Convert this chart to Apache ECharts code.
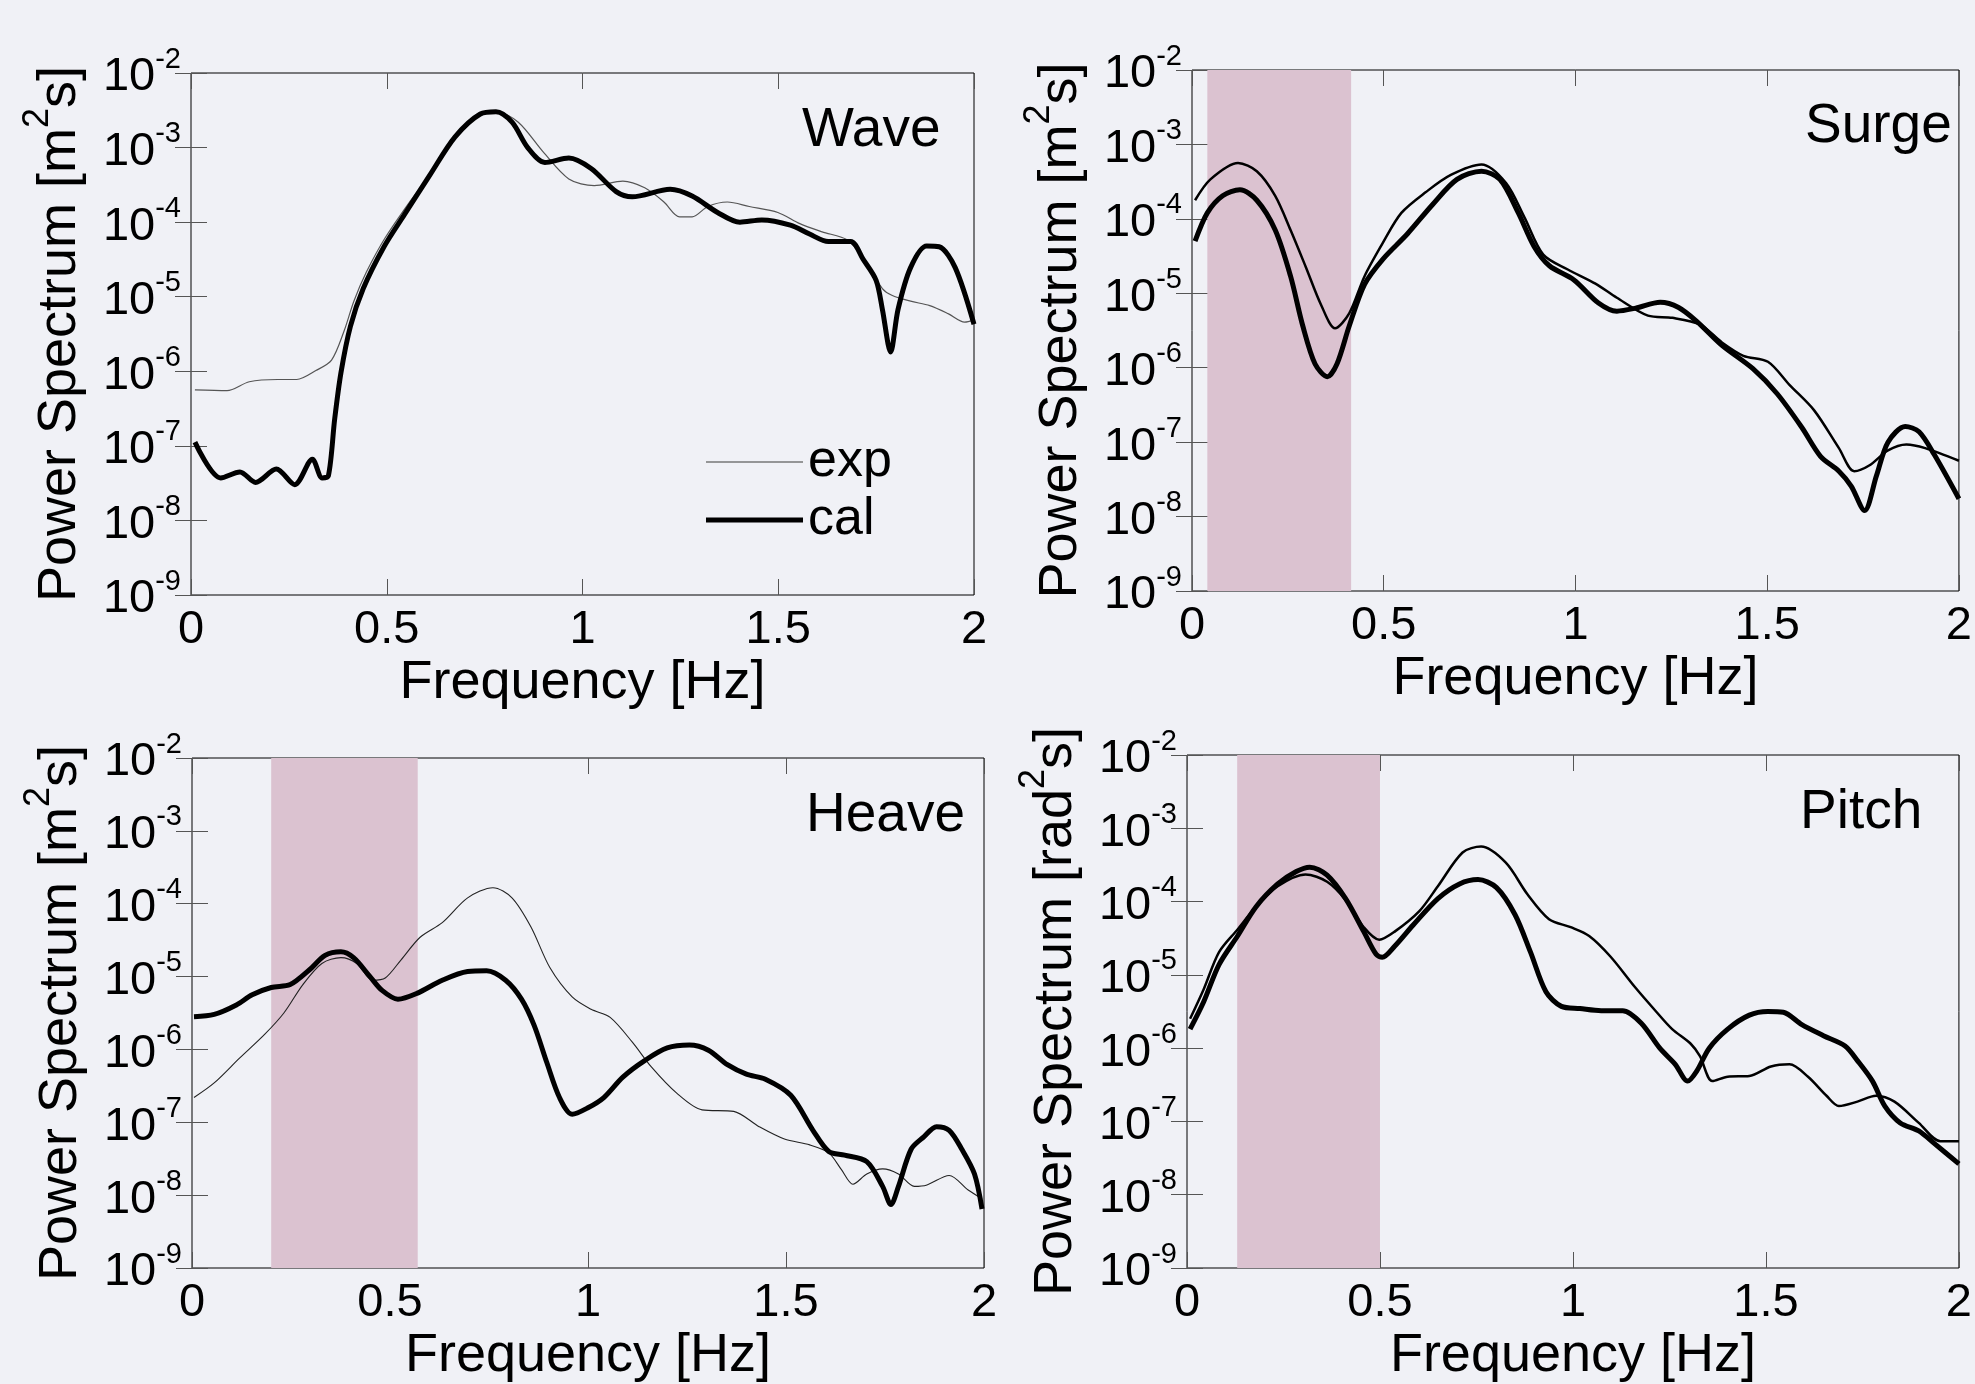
<!DOCTYPE html>
<html lang="en">
<head>
<meta charset="UTF-8">
<title>Power Spectrum</title>
<style>
    html, body { margin: 0; padding: 0; background: #f0f1f6; }
    #chart { width: 1975px; height: 1384px; }
</style>
<script src="https://cdn.jsdelivr.net/npm/echarts@6/dist/echarts.min.js"></script>
</head>
<body>
<div id="chart"></div>
<script>
// frequency [Hz] and log10(power spectrum)
var waveExpF = [0.01,0.092,0.149,0.221,0.27,0.319,0.359,0.391,0.416,0.448,0.496,0.561,0.626,0.674,0.739,0.78,0.836,0.9,0.965,1.03,1.103,1.159,1.208,1.248,1.28,1.32,1.37,1.426,1.499,1.555,1.612,1.677,1.725,1.766,1.79,1.838,1.887,1.935,1.976,2.0];
var waveExpLog = [-6.25,-6.26,-6.14,-6.11,-6.11,-5.99,-5.85,-5.46,-5.06,-4.67,-4.21,-3.71,-3.25,-2.86,-2.55,-2.52,-2.66,-3.06,-3.42,-3.51,-3.45,-3.54,-3.73,-3.93,-3.93,-3.79,-3.73,-3.79,-3.87,-4.02,-4.13,-4.24,-4.55,-4.89,-4.98,-5.06,-5.12,-5.23,-5.34,-5.31];
var waveCalF = [0.01,0.076,0.125,0.165,0.218,0.265,0.31,0.335,0.351,0.367,0.383,0.407,0.44,0.493,0.545,0.61,0.674,0.739,0.779,0.82,0.86,0.904,0.965,1.022,1.086,1.127,1.224,1.28,1.345,1.402,1.458,1.531,1.58,1.628,1.685,1.717,1.75,1.766,1.787,1.806,1.838,1.879,1.911,1.952,2.0];
var waveCalLog = [-6.95,-7.43,-7.35,-7.49,-7.31,-7.52,-7.18,-7.43,-7.40,-6.64,-6.02,-5.40,-4.89,-4.33,-3.90,-3.37,-2.86,-2.55,-2.52,-2.66,-3.0,-3.20,-3.14,-3.28,-3.59,-3.66,-3.56,-3.65,-3.87,-4.0,-3.97,-4.04,-4.16,-4.26,-4.26,-4.50,-4.78,-5.17,-5.74,-5.17,-4.61,-4.32,-4.33,-4.61,-5.37];

var surgeExpF = [0.008,0.048,0.12,0.169,0.217,0.257,0.297,0.337,0.373,0.41,0.45,0.498,0.546,0.61,0.675,0.755,0.819,0.867,0.916,0.98,1.052,1.108,1.189,1.253,1.325,1.382,1.438,1.502,1.558,1.622,1.687,1.727,1.767,1.815,1.863,1.912,2.0];
var surgeExpLog = [-3.75,-3.47,-3.25,-3.36,-3.69,-4.15,-4.65,-5.16,-5.47,-5.27,-4.77,-4.32,-3.92,-3.64,-3.41,-3.27,-3.52,-3.98,-4.48,-4.68,-4.87,-5.06,-5.30,-5.33,-5.42,-5.66,-5.84,-5.92,-6.23,-6.57,-7.08,-7.39,-7.31,-7.11,-7.03,-7.08,-7.25];
var surgeCalF = [0.008,0.04,0.08,0.125,0.169,0.217,0.257,0.289,0.321,0.353,0.378,0.41,0.45,0.498,0.562,0.627,0.691,0.755,0.803,0.851,0.892,0.932,0.996,1.06,1.108,1.157,1.221,1.269,1.317,1.382,1.462,1.526,1.59,1.639,1.687,1.719,1.754,1.785,1.815,1.86,1.896,1.936,2.0];
var surgeCalLog = [-4.30,-3.92,-3.69,-3.61,-3.75,-4.15,-4.77,-5.44,-5.95,-6.12,-5.95,-5.44,-4.88,-4.54,-4.20,-3.81,-3.47,-3.36,-3.47,-3.92,-4.37,-4.63,-4.82,-5.13,-5.24,-5.20,-5.12,-5.19,-5.38,-5.70,-6.01,-6.35,-6.80,-7.19,-7.39,-7.59,-7.92,-7.45,-7.0,-6.79,-6.86,-7.17,-7.76];

var heaveExpF = [0.005,0.056,0.12,0.184,0.232,0.28,0.328,0.376,0.416,0.456,0.488,0.528,0.576,0.632,0.696,0.76,0.808,0.856,0.904,0.96,1.008,1.056,1.112,1.16,1.224,1.288,1.368,1.432,1.496,1.56,1.608,1.64,1.669,1.704,1.744,1.784,1.824,1.856,1.912,1.96,1.995];
var heaveExpLog = [-6.66,-6.46,-6.12,-5.79,-5.50,-5.11,-4.82,-4.74,-4.82,-5.05,-5.02,-4.77,-4.46,-4.26,-3.92,-3.78,-3.92,-4.32,-4.88,-5.28,-5.45,-5.56,-5.90,-6.24,-6.60,-6.83,-6.85,-7.06,-7.23,-7.31,-7.42,-7.65,-7.85,-7.71,-7.64,-7.71,-7.88,-7.86,-7.73,-7.93,-8.05];
var heaveCalF = [0.005,0.056,0.112,0.152,0.2,0.248,0.296,0.336,0.376,0.408,0.448,0.48,0.52,0.568,0.632,0.696,0.744,0.792,0.832,0.864,0.896,0.928,0.96,1.0,1.04,1.088,1.144,1.2,1.256,1.304,1.352,1.4,1.448,1.512,1.568,1.608,1.648,1.704,1.744,1.765,1.784,1.816,1.848,1.88,1.912,1.944,1.976,1.995];
var heaveCalLog = [-5.55,-5.52,-5.39,-5.25,-5.15,-5.11,-4.91,-4.71,-4.66,-4.74,-4.99,-5.19,-5.31,-5.23,-5.05,-4.93,-4.92,-5.05,-5.31,-5.67,-6.18,-6.66,-6.89,-6.80,-6.66,-6.38,-6.15,-5.98,-5.94,-6.01,-6.21,-6.34,-6.41,-6.63,-7.11,-7.40,-7.45,-7.54,-7.88,-8.13,-7.88,-7.37,-7.20,-7.06,-7.11,-7.37,-7.71,-8.19];

var pitchExpF = [0.008,0.043,0.083,0.131,0.179,0.235,0.307,0.363,0.411,0.458,0.498,0.538,0.602,0.65,0.714,0.762,0.826,0.882,0.938,0.994,1.042,1.097,1.161,1.217,1.257,1.305,1.329,1.361,1.401,1.457,1.513,1.561,1.609,1.657,1.689,1.737,1.785,1.833,1.896,1.952,2.0];
var pitchExpLog = [-5.60,-5.20,-4.69,-4.38,-4.07,-3.79,-3.63,-3.73,-3.98,-4.35,-4.52,-4.41,-4.13,-3.79,-3.33,-3.25,-3.47,-3.90,-4.24,-4.35,-4.47,-4.75,-5.17,-5.51,-5.74,-5.94,-6.11,-6.45,-6.39,-6.38,-6.25,-6.22,-6.39,-6.65,-6.79,-6.73,-6.65,-6.73,-7.02,-7.27,-7.27];
var pitchCalF = [0.008,0.043,0.083,0.131,0.179,0.235,0.283,0.318,0.363,0.411,0.458,0.49,0.506,0.538,0.586,0.65,0.706,0.754,0.802,0.85,0.89,0.93,0.97,1.018,1.073,1.129,1.177,1.225,1.265,1.297,1.321,1.353,1.401,1.457,1.505,1.545,1.593,1.649,1.705,1.737,1.776,1.808,1.848,1.896,1.936,2.0];
var pitchCalLog = [-5.74,-5.37,-4.86,-4.47,-4.07,-3.76,-3.59,-3.53,-3.64,-3.96,-4.41,-4.72,-4.76,-4.61,-4.32,-3.96,-3.76,-3.70,-3.81,-4.18,-4.69,-5.23,-5.43,-5.46,-5.49,-5.49,-5.66,-6.0,-6.22,-6.45,-6.31,-6.0,-5.74,-5.55,-5.50,-5.51,-5.68,-5.83,-5.97,-6.17,-6.45,-6.79,-7.02,-7.13,-7.30,-7.58];

// shaded frequency bands [Hz]
var surgeBand = [0.04, 0.415];
var heaveBand = [0.2, 0.57];
var pitchBand = [0.13, 0.5];

var panelTitles = ['Wave', 'Surge', 'Heave', 'Pitch'];
var panelUnits = ['m', 'm', 'm', 'rad'];

function toPairs(f, lg) {
    return f.map(function (x, i) { return [x, Math.pow(10, lg[i])]; });
}

var font = '"Liberation Sans", Arial, Helvetica, sans-serif';

var panels = [
    { grid: { left: 191, top: 73, width: 783, height: 522 }, title: [802, 103],
      exp: toPairs(waveExpF, waveExpLog), cal: toPairs(waveCalF, waveCalLog),
      expColor: '#555', expWidth: 1.2, band: null },
    { grid: { left: 1192, top: 70, width: 786, height: 521 }, title: [1805, 99],
      exp: toPairs(surgeExpF, surgeExpLog), cal: toPairs(surgeCalF, surgeCalLog),
      expColor: '#000', expWidth: 2.5, band: surgeBand },
    { grid: { left: 192, top: 758, width: 792, height: 525 }, title: [806, 788],
      exp: toPairs(heaveExpF, heaveExpLog), cal: toPairs(heaveCalF, heaveCalLog),
      expColor: '#222', expWidth: 1.1, band: heaveBand },
    { grid: { left: 1187, top: 755, width: 785, height: 524 }, title: [1800, 785],
      exp: toPairs(pitchExpF, pitchExpLog), cal: toPairs(pitchCalF, pitchCalLog),
      expColor: '#000', expWidth: 2.5, band: pitchBand }
];

var tick = { inside: true, length: 16, lineStyle: { color: '#555', width: 1 } };

var grids = [], xAxes = [], yAxes = [], series = [], titles = [];

panels.forEach(function (p, i) {
    grids.push({
        left: p.grid.left, top: p.grid.top, width: p.grid.width, height: p.grid.height,
        show: true, borderColor: '#000', borderWidth: 1, backgroundColor: 'transparent'
    });

    xAxes.push({
        gridIndex: i, type: 'value', min: 0, max: 2, interval: 0.5, position: 'bottom',
        axisLine: { show: false }, axisTick: tick, splitLine: { show: false },
        axisLabel: { fontSize: 47, color: '#000', fontFamily: font, margin: 12 },
        name: 'Frequency [Hz]', nameLocation: 'middle', nameGap: 61,
        nameTextStyle: { fontSize: 54, color: '#000', fontFamily: font, lineHeight: 54 }
    });
    xAxes.push({
        gridIndex: i, type: 'value', min: 0, max: 2, interval: 0.5, position: 'top',
        axisLine: { show: false }, axisTick: tick, splitLine: { show: false },
        axisLabel: { show: false }
    });

    yAxes.push({
        gridIndex: i, type: 'log', logBase: 10, min: 1e-9, max: 1e-2, interval: 1,
        position: 'left',
        axisLine: { show: false }, axisTick: tick, splitLine: { show: false },
        axisLabel: {
            margin: 10, color: '#000', fontFamily: font,
            formatter: function (v) {
                return '{b|10}{s|' + Math.round(Math.log10(v)) + '}';
            },
            rich: {
                b: { fontSize: 47, verticalAlign: 'bottom', fontFamily: font, color: '#000' },
                s: { fontSize: 29, verticalAlign: 'bottom', padding: [0, 0, 27, 0], fontFamily: font, color: '#000' }
            }
        },
        name: '{a|Power Spectrum [' + panelUnits[i] + '}{s|2}{a|s]}',
        nameLocation: 'middle', nameGap: 104,
        nameTextStyle: {
            color: '#000', fontFamily: font,
            rich: {
                a: { fontSize: 54, verticalAlign: 'bottom', fontFamily: font, color: '#000' },
                s: { fontSize: 36, verticalAlign: 'bottom', padding: [0, 0, 31, 0], fontFamily: font, color: '#000' }
            }
        }
    });
    yAxes.push({
        gridIndex: i, type: 'log', logBase: 10, min: 1e-9, max: 1e-2, interval: 1,
        position: 'right',
        axisLine: { show: false }, axisTick: tick, splitLine: { show: false },
        axisLabel: { show: false }
    });

    var expSeries = {
        name: i === 0 ? 'exp' : panelTitles[i] + ' exp',
        type: 'line', xAxisIndex: 2 * i, yAxisIndex: 2 * i,
        data: p.exp, showSymbol: false, symbol: 'none', smooth: 0.3,
        lineStyle: { color: p.expColor, width: p.expWidth }, itemStyle: { color: p.expColor },
        animation: false, z: 3
    };
    if (p.band) {
        expSeries.markArea = {
            silent: true,
            itemStyle: { color: '#dbc2d0', opacity: 1 },
            data: [[{ xAxis: p.band[0] }, { xAxis: p.band[1] }]]
        };
    }
    series.push(expSeries);
    series.push({
        name: i === 0 ? 'cal' : panelTitles[i] + ' cal',
        type: 'line', xAxisIndex: 2 * i, yAxisIndex: 2 * i,
        data: p.cal, showSymbol: false, symbol: 'none', smooth: 0.3,
        lineStyle: { color: '#000', width: 5 }, itemStyle: { color: '#000' },
        animation: false, z: 4
    });

    titles.push({
        text: panelTitles[i], left: p.title[0], top: p.title[1], padding: 0,
        textStyle: { fontSize: 55, fontWeight: 'normal', color: '#000', fontFamily: font }
    });
});

var chart = echarts.init(document.getElementById('chart'));
chart.setOption({
    backgroundColor: '#f0f1f6',
    animation: false,
    title: titles,
    legend: {
        data: [
            { name: 'exp', icon: 'path://M0,0L97,0L97,1.5L0,1.5Z', itemStyle: { color: '#777' } },
            { name: 'cal', icon: 'path://M0,0L97,0L97,5L0,5Z', itemStyle: { color: '#000' } }
        ],
        orient: 'vertical', left: 706, top: 433, padding: 0,
        itemWidth: 97, itemHeight: 20, itemGap: 0, symbolKeepAspect: true,
        textStyle: { fontSize: 52, lineHeight: 58, color: '#000', fontFamily: font },
        selectedMode: false
    },
    grid: grids,
    xAxis: xAxes,
    yAxis: yAxes,
    series: series
});
</script>
</body>
</html>
